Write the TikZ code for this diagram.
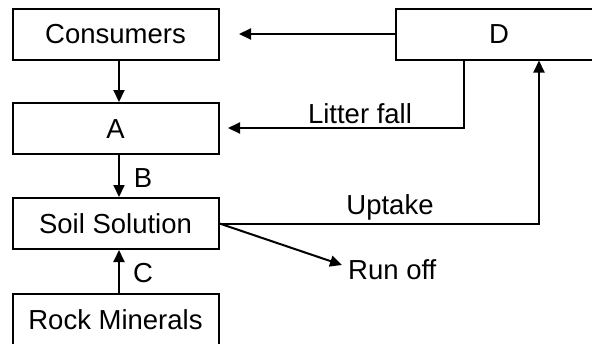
\documentclass[tikz,border=0pt]{standalone}
\usepackage{fontspec}
\setmainfont{Liberation Sans}
\usetikzlibrary{arrows.meta}
\begin{document}
\begin{tikzpicture}[x=1pt,y=-1pt,
  box/.style={draw, line width=2pt, minimum width=206pt, minimum height=51pt,
    inner sep=0pt, font=\fontsize{27.5}{33}\selectfont, text height=19.7pt, text depth=0pt},
  lbl/.style={font=\fontsize{27.5}{33}\selectfont, inner sep=0pt, anchor=base},
  arr/.style={line width=2pt, -{Triangle[length=12pt,width=11pt]}}]
\useasboundingbox (0,0) rectangle (592,343);
\clip (0,0) rectangle (592,343);
% boxes
\node[box] (cons) at (115.5,34) {Consumers};
\node[box] (A) at (115.5,128.5) {A};
\node[box] (soil) at (115.5,223.5) {Soil Solution};
\node[box] (rock) at (115.5,319.5) {Rock Minerals};
\node[box] (D) at (499,34) {D};
% free ends
\coordinate (c1) at (239,34);
\coordinate (lf) at (464,128);
\coordinate (lfend) at (228,128);
\coordinate (up) at (539,224);
\coordinate (ro) at (342,265);
% connectors
\draw[arr] ([xshift=3.5pt]cons.south) -- ([xshift=3.5pt]A.north);
\draw[arr] ([xshift=3.5pt]A.south) -- ([xshift=3.5pt]soil.north);
\draw[arr] ([xshift=3.5pt]rock.north) -- ([xshift=3.5pt]soil.south);
\draw[arr] (D.west) -- (c1);
\draw[arr] (lf |- D.south) -- (lf) -- (lfend);
\draw[arr] (soil.east) -| (up |- D.south);
\draw[arr] (soil.east) -- (ro);
% labels
\node[lbl] (lB) at (143,187) {B};
\node[lbl] (lC) at (143,282) {C};
\node[lbl] (lLF) at (360,123) {Litter fall};
\node[lbl] (lUp) at (390,214) {Uptake};
\node[lbl, anchor=base west] (lRO) at (348,279) {Run off};
\end{tikzpicture}
\end{document}
